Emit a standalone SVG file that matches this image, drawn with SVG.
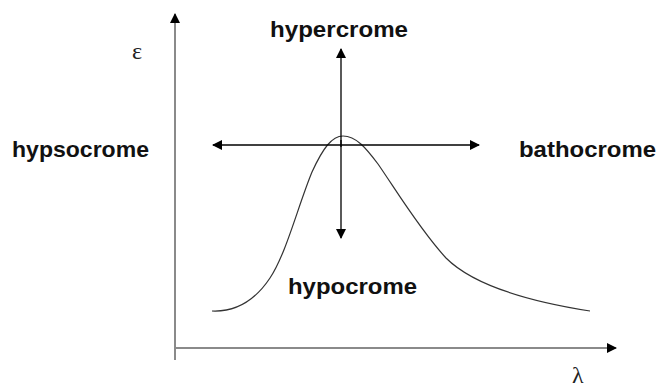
<svg xmlns="http://www.w3.org/2000/svg" width="659" height="389" viewBox="0 0 659 389">
<defs>
<marker id="ah" viewBox="0 0 10 10" refX="9" refY="5" markerWidth="10" markerHeight="10" markerUnits="userSpaceOnUse" orient="auto-start-reverse">
<path d="M0,0 L10,5 L0,10 z" fill="#000"/>
</marker>
</defs>
<style>
.lbl{font-family:"Liberation Sans",Arial,sans-serif;font-weight:bold;font-size:22px;fill:#111;}
.sym{font-family:"Liberation Serif","Times New Roman",serif;font-size:24px;fill:#222;}
.axis{stroke:#8a8a8a;stroke-width:2;fill:none;}
.arr{stroke:#000;stroke-width:1.3;fill:none;}
</style>
<rect width="659" height="389" fill="#fff"/>
<g id="axes">
<line class="axis" x1="175" y1="360" x2="175" y2="14" marker-end="url(#ah)"/>
<line class="axis" x1="175" y1="348" x2="616" y2="348" marker-end="url(#ah)"/>
</g>
<g id="curve">
<path d="M212,311 C234,312 254,302 270,278 C286,254 298,206 312,172 C323,148 332,136 343,136 C356,136 366,148 378,164 C396,190 420,230 446,258 C470,282 520,300 590,311" stroke="#333" stroke-width="1.2" fill="none"/>
</g>
<g id="connectors">
<line class="arr" x1="341" y1="147" x2="341" y2="49" marker-end="url(#ah)"/>
<line class="arr" x1="341" y1="140" x2="341" y2="238" marker-end="url(#ah)"/>
<line class="arr" x1="213" y1="145" x2="479" y2="145" marker-start="url(#ah)" marker-end="url(#ah)"/>
</g>
<g id="n-hypercrome"><text class="lbl" x="270" y="37" textLength="138" lengthAdjust="spacingAndGlyphs">hypercrome</text></g>
<g id="n-hypsocrome"><text class="lbl" x="12" y="157" textLength="137" lengthAdjust="spacingAndGlyphs">hypsocrome</text></g>
<g id="n-bathocrome"><text class="lbl" x="519" y="157" textLength="137" lengthAdjust="spacingAndGlyphs">bathocrome</text></g>
<g id="n-hypocrome"><text class="lbl" x="288" y="294" textLength="129" lengthAdjust="spacingAndGlyphs">hypocrome</text></g>
<g id="n-epsilon"><text class="sym" x="132" y="59">ε</text></g>
<g id="n-lambda"><text class="sym" x="572" y="383">λ</text></g>
</svg>
